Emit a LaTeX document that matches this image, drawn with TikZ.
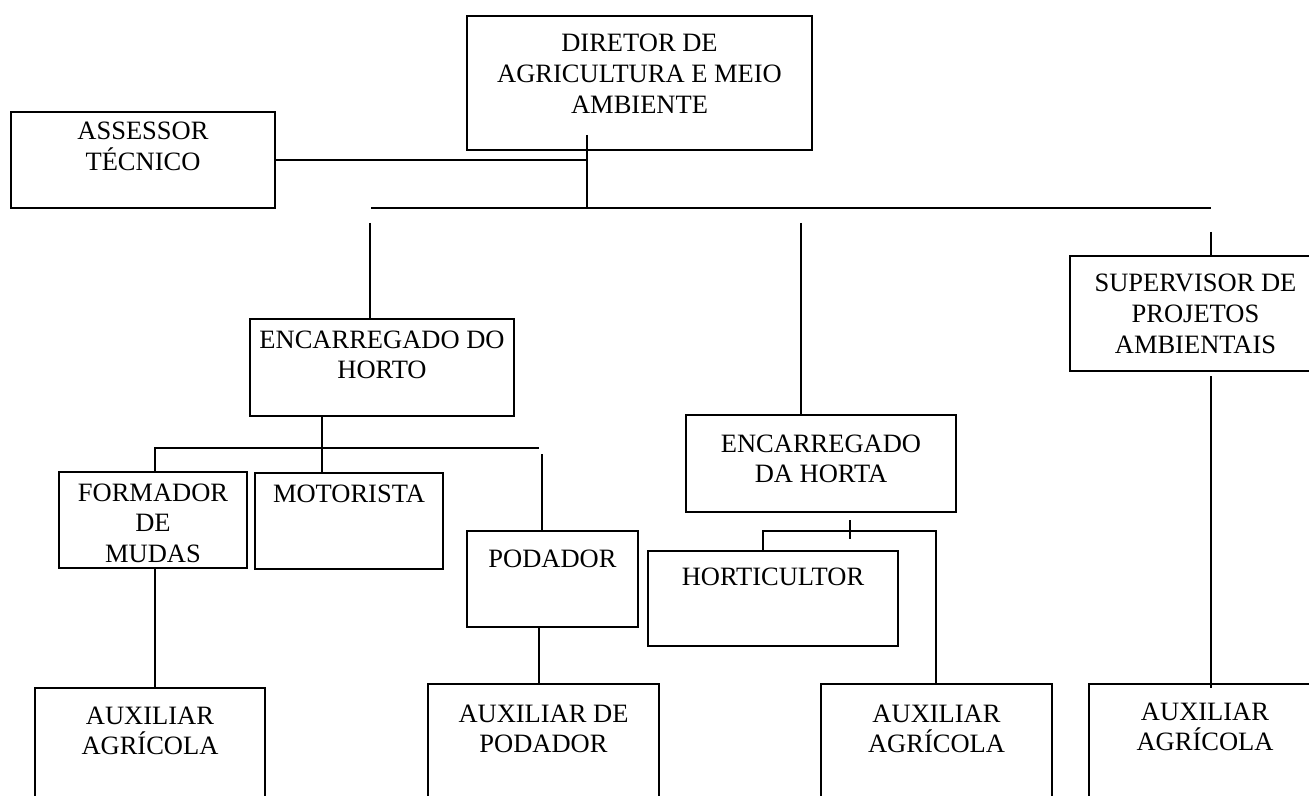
\documentclass[tikz,border=0pt]{standalone}
\usepackage{fontspec}
\setmainfont{Liberation Serif}
\newdimen\pxu \pxu=0.5pt
\tikzset{
  obox/.style={draw, line width=1pt, inner sep=0pt, outer sep=0pt, anchor=north west,
    font=\fontsize{13.25}{15.4}\selectfont},
  conn/.style={line width=1pt, line cap=butt}
}
% name, x1, y1, x2, y2, first-baseline offset, text
\newcommand\orgbox[7]{%
  \node[obox] (#1) at (#2,#3) {\parbox[t][\dimexpr\pxu*(#5-#3)\relax][t]{\dimexpr\pxu*(#4-#2)\relax}{\centering\rule{0pt}{#6\pxu}#7}};}
\begin{document}
\begin{tikzpicture}[x=0.5pt,y=-0.5pt]
\useasboundingbox (0,0) rectangle (1309,796);
\clip (0,0) rectangle (1309,796);
\fill[white] (0,0) rectangle (1309,796);

\orgbox{dir}{467}{16}{812}{150}{36}{DIRETOR DE\\AGRICULTURA E MEIO\\AMBIENTE}
\orgbox{ass}{11}{112}{275}{208}{28}{ASSESSOR\\TÉCNICO}
\orgbox{horto}{250}{319}{514}{416}{29}{ENCARREGADO DO\\HORTO}
\orgbox{sup}{1070}{256}{1321}{371}{36}{SUPERVISOR DE\\PROJETOS\\AMBIENTAIS}
\orgbox{horta}{686}{415}{956}{512}{37}{ENCARREGADO\\DA HORTA}
\orgbox{form}{59}{472}{247}{568}{29}{FORMADOR\\DE\\MUDAS}
\orgbox{moto}{255}{473}{443}{569}{29}{MOTORISTA}
\orgbox{poda}{467}{531}{638}{627}{36}{PODADOR}
\orgbox{hortic}{648}{551}{898}{646}{34}{HORTICULTOR}
\orgbox{aux1}{35}{688}{265}{840}{36}{AUXILIAR\\AGRÍCOLA}
\orgbox{aux2}{428}{684}{659}{840}{38}{AUXILIAR DE\\PODADOR}
\orgbox{aux3}{821}{684}{1052}{840}{38}{AUXILIAR\\AGRÍCOLA}
\orgbox{aux4}{1089}{684}{1321}{840}{36}{AUXILIAR\\AGRÍCOLA}

% top level
\coordinate (dirIn) at (587,135);
\coordinate (busL) at (371,208);
\coordinate (busR) at (1211,208);
\draw[conn] (dirIn) -- (dirIn |- busL);
\draw[conn] (ass.east) -- (ass.east -| dirIn);
\draw[conn] (busL) -- (busR);
\coordinate (s1) at (370,223);
\draw[conn] (s1) -- (s1 |- horto.north);
\coordinate (s2) at (801,223);
\draw[conn] (s2) -- (s2 |- horta.north);
\coordinate (s3) at (1211,232);
\draw[conn] (s3) -- (s3 |- sup.north);
\coordinate (s4) at (1211,376);
\coordinate (s4e) at (1211,688);
\draw[conn] (s4) -- (s4e);

% horto branch
\coordinate (h1) at (322,416);
\draw[conn] (h1) -- (h1 |- moto.north);
\coordinate (hb1) at (155,448);
\coordinate (hb2) at (539,448);
\draw[conn] (hb1 |- form.north) -- (hb1) -- (hb2);
\coordinate (p1) at (542,454);
\draw[conn] (p1) -- (p1 |- poda.north);
\coordinate (f1) at (155,568);
\draw[conn] (f1) -- (f1 |- aux1.north);
\coordinate (p2) at (539,627);
\draw[conn] (p2) -- (p2 |- aux2.north);

% horta branch
\coordinate (t1) at (850,520);
\coordinate (t2) at (850,539);
\draw[conn] (t1) -- (t2);
\coordinate (tb1) at (763,531);
\coordinate (tb2) at (936,531);
\draw[conn] (tb1 |- hortic.north) -- (tb1) -- (tb2) -- (tb2 |- aux3.north);
\end{tikzpicture}
\end{document}
